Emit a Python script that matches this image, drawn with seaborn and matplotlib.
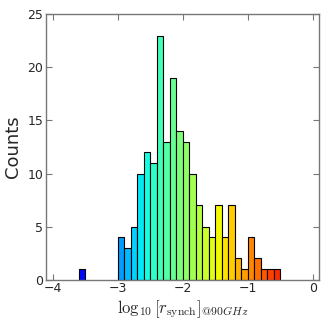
import matplotlib
matplotlib.use("Agg")
import matplotlib.pyplot as plt
import numpy as np
import pandas as pd
import seaborn as sns

# histogram of log10 r_synch at 90 GHz, bin width 0.1
bin_centers = [-3.55,
               -2.95, -2.85, -2.75, -2.65, -2.55, -2.45, -2.35, -2.25, -2.15,
               -2.05, -1.95, -1.85, -1.75, -1.65, -1.55, -1.45, -1.35, -1.25,
               -1.15, -1.05, -0.95, -0.85, -0.75, -0.65, -0.55]
counts = [1,
          4, 3, 5, 10, 12, 11, 23, 13, 19,
          14, 13, 10, 7, 5, 4, 7, 4, 7,
          2, 1, 4, 2, 1, 1, 1]
bin_edges = [round(v, 2) for v in np.arange(-3.6, -0.45, 0.1)]

df = pd.DataFrame({"r": bin_centers, "n": counts})

sns.set_style("ticks")
plt.rcParams["mathtext.fontset"] = "cm"
plt.rcParams["font.family"] = ["DejaVu Sans"]

fig = plt.figure(figsize=(3.27, 3.27), dpi=100)
ax = fig.add_axes([0.141, 0.145, 0.835, 0.811])

sns.histplot(data=df, x="r", weights="n", bins=bin_edges, ax=ax,
             edgecolor="black", linewidth=0.8, alpha=1)

# colour each bar by its position with jet
cmap = plt.cm.jet
norm = plt.Normalize(vmin=-4.1, vmax=0.0)
for p in ax.patches:
    c = p.get_x() + p.get_width() / 2
    p.set_facecolor(cmap(norm(c)))
    if p.get_height() == 0:
        p.set_linewidth(0)

ax.set_xlim(-4.1, 0.1)
ax.set_ylim(0, 25)
ax.set_xticks([-4, -3, -2, -1, 0])
ax.set_yticks([0, 5, 10, 15, 20, 25])
ax.tick_params(direction="in", top=True, right=True, length=4, width=0.8,
               color="#777777", labelsize=9, pad=2)
for s in ax.spines.values():
    s.set_visible(True)
    s.set_color("#777777")
    s.set_linewidth(1)

ax.set_ylabel("Counts", fontsize=13, labelpad=4)
ax.set_xlabel(r"$\log_{10}[r_{\rm synch}]_{@90GHz}$", fontsize=12, labelpad=2)

fig.savefig("out.png", dpi=100)
